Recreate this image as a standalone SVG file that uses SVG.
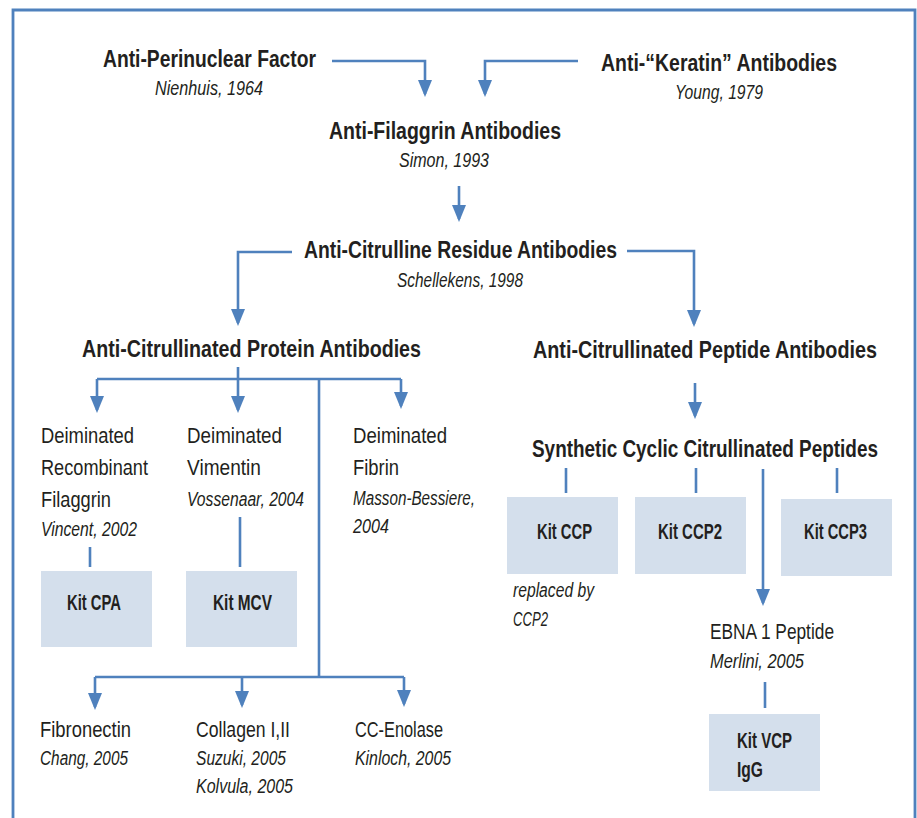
<svg xmlns="http://www.w3.org/2000/svg" width="917" height="818" viewBox="0 0 917 818">
<style>
  text { font-family: "Liberation Sans Narrow", "Liberation Sans", Arial, sans-serif; fill: #231f20; }
  .t { font-size: 23px; font-weight: bold; }
  .r { font-size: 22px; }
  .i { font-size: 20px; font-style: italic; }
  .k { font-size: 22px; font-weight: bold; }
  .ln { fill: none; stroke: #4f81bd; stroke-width: 2.6; }
  .ar { fill: none; stroke: #4f81bd; stroke-width: 2.6; marker-end: url(#ah); }
  .box { fill: #d4dfec; }
</style>
<defs>
  <marker id="ah" markerUnits="userSpaceOnUse" viewBox="0 0 17 14" refX="14" refY="7" markerWidth="17" markerHeight="14" orient="auto">
    <path d="M0,0 L17,7 L0,14 Z" fill="#4f81bd"/>
  </marker>
</defs>
<rect width="917" height="818" fill="#ffffff"/>
<path d="M13,818 V10 H915 V818" fill="none" stroke="#4f81bd" stroke-width="2.8"/>

<g id="connectors">
  <path class="ar" d="M332,61 H425 V94"/>
  <path class="ar" d="M578,61 H485 V94"/>
  <path class="ar" d="M459,186 V219"/>
  <path class="ar" d="M292,252 H238 V323"/>
  <path class="ar" d="M627,251 H694 V324"/>
  <path class="ln" d="M97,379 H401"/>
  <path class="ar" d="M238,367 V410"/>
  <path class="ar" d="M97,379 V410"/>
  <path class="ar" d="M401,379 V406"/>
  <path class="ln" d="M319,379 V677"/>
  <path class="ln" d="M95,677 H404"/>
  <path class="ar" d="M95,677 V707"/>
  <path class="ar" d="M242,677 V705"/>
  <path class="ar" d="M404,677 V704"/>
  <path class="ar" d="M695,383 V416"/>
  <path class="ar" d="M763,469 V603"/>
  <path class="ln" d="M566,468 V493"/>
  <path class="ln" d="M696,468 V493"/>
  <path class="ln" d="M837,468 V493"/>
  <path class="ln" d="M90,547 V567"/>
  <path class="ln" d="M240,517 V567"/>
  <path class="ln" d="M765,682 V708"/>
</g>

<g id="anti-perinuclear">
  <text class="t" x="103" y="67" textLength="213" lengthAdjust="spacingAndGlyphs">Anti-Perinuclear Factor</text>
  <text class="i" x="155" y="95" textLength="108" lengthAdjust="spacingAndGlyphs">Nienhuis, 1964</text>
</g>
<g id="anti-keratin">
  <text class="t" x="601" y="71" textLength="236" lengthAdjust="spacingAndGlyphs">Anti-“Keratin” Antibodies</text>
  <text class="i" x="675" y="99" textLength="88" lengthAdjust="spacingAndGlyphs">Young, 1979</text>
</g>
<g id="anti-filaggrin">
  <text class="t" x="329" y="139" textLength="232" lengthAdjust="spacingAndGlyphs">Anti-Filaggrin Antibodies</text>
  <text class="i" x="399" y="167" textLength="90" lengthAdjust="spacingAndGlyphs">Simon, 1993</text>
</g>
<g id="anti-citrulline">
  <text class="t" x="304" y="258" textLength="313" lengthAdjust="spacingAndGlyphs">Anti-Citrulline Residue Antibodies</text>
  <text class="i" x="397" y="287" textLength="126" lengthAdjust="spacingAndGlyphs">Schellekens, 1998</text>
</g>
<g id="acpa-protein">
  <text class="t" x="82" y="357" textLength="339" lengthAdjust="spacingAndGlyphs">Anti-Citrullinated Protein Antibodies</text>
</g>
<g id="acpa-peptide">
  <text class="t" transform="scale(0.85,1)" x="627.06" y="358" textLength="404.7" lengthAdjust="spacingAndGlyphs">Anti-Citrullinated Peptide Antibodies</text>
</g>
<g id="ccp">
  <text class="t" transform="scale(0.85,1)" x="625.88" y="457" textLength="407.06" lengthAdjust="spacingAndGlyphs">Synthetic Cyclic Citrullinated Peptides</text>
</g>

<g id="filaggrin">
  <text class="r" x="41" y="443" textLength="93" lengthAdjust="spacingAndGlyphs">Deiminated</text>
  <text class="r" x="41" y="475" textLength="107" lengthAdjust="spacingAndGlyphs">Recombinant</text>
  <text class="r" x="41" y="507" textLength="70" lengthAdjust="spacingAndGlyphs">Filaggrin</text>
  <text class="i" x="41" y="536" textLength="96" lengthAdjust="spacingAndGlyphs">Vincent, 2002</text>
</g>
<g id="vimentin">
  <text class="r" x="187" y="443" textLength="95" lengthAdjust="spacingAndGlyphs">Deiminated</text>
  <text class="r" x="187" y="475" textLength="74" lengthAdjust="spacingAndGlyphs">Vimentin</text>
  <text class="i" x="187" y="506" textLength="117" lengthAdjust="spacingAndGlyphs">Vossenaar, 2004</text>
</g>
<g id="fibrin">
  <text class="r" x="353" y="443" textLength="94" lengthAdjust="spacingAndGlyphs">Deiminated</text>
  <text class="r" x="353" y="475" textLength="46" lengthAdjust="spacingAndGlyphs">Fibrin</text>
  <text class="i" x="353" y="505" textLength="122" lengthAdjust="spacingAndGlyphs">Masson-Bessiere,</text>
  <text class="i" x="353" y="533" textLength="36" lengthAdjust="spacingAndGlyphs">2004</text>
</g>

<g id="kit-cpa">
  <rect class="box" x="41" y="571" width="111" height="76"/>
  <text class="k" x="67" y="610" textLength="54" lengthAdjust="spacingAndGlyphs">Kit CPA</text>
</g>
<g id="kit-mcv">
  <rect class="box" x="186" y="571" width="111" height="76"/>
  <text class="k" x="213" y="610" textLength="59" lengthAdjust="spacingAndGlyphs">Kit MCV</text>
</g>
<g id="kit-ccp">
  <rect class="box" x="507" y="497" width="111" height="77"/>
  <text class="k" x="537" y="539" textLength="55" lengthAdjust="spacingAndGlyphs">Kit CCP</text>
  <text class="i" x="513" y="597" textLength="81" lengthAdjust="spacingAndGlyphs">replaced by</text>
  <text class="i" x="513" y="626" textLength="35" lengthAdjust="spacingAndGlyphs">CCP2</text>
</g>
<g id="kit-ccp2">
  <rect class="box" x="635" y="497" width="111" height="77"/>
  <text class="k" x="658" y="539" textLength="64" lengthAdjust="spacingAndGlyphs">Kit CCP2</text>
</g>
<g id="kit-ccp3">
  <rect class="box" x="781" y="499" width="111" height="77"/>
  <text class="k" x="804" y="539" textLength="63" lengthAdjust="spacingAndGlyphs">Kit CCP3</text>
</g>
<g id="ebna">
  <text class="r" x="710" y="639" textLength="124" lengthAdjust="spacingAndGlyphs">EBNA 1 Peptide</text>
  <text class="i" x="710" y="668" textLength="94" lengthAdjust="spacingAndGlyphs">Merlini, 2005</text>
</g>
<g id="kit-vcp">
  <rect class="box" x="709" y="714" width="111" height="77"/>
  <text class="k" x="737" y="748" textLength="55" lengthAdjust="spacingAndGlyphs">Kit VCP</text>
  <text class="k" x="737" y="777" textLength="26" lengthAdjust="spacingAndGlyphs">IgG</text>
</g>

<g id="fibronectin">
  <text class="r" x="40" y="737" textLength="91" lengthAdjust="spacingAndGlyphs">Fibronectin</text>
  <text class="i" x="40" y="765" textLength="88" lengthAdjust="spacingAndGlyphs">Chang, 2005</text>
</g>
<g id="collagen">
  <text class="r" x="196" y="737" textLength="94" lengthAdjust="spacingAndGlyphs">Collagen I,II</text>
  <text class="i" x="196" y="765" textLength="90" lengthAdjust="spacingAndGlyphs">Suzuki, 2005</text>
  <text class="i" x="196" y="793" textLength="97" lengthAdjust="spacingAndGlyphs">Kolvula, 2005</text>
</g>
<g id="enolase">
  <text class="r" x="355" y="737" textLength="88" lengthAdjust="spacingAndGlyphs">CC-Enolase</text>
  <text class="i" x="355" y="765" textLength="96" lengthAdjust="spacingAndGlyphs">Kinloch, 2005</text>
</g>
</svg>
